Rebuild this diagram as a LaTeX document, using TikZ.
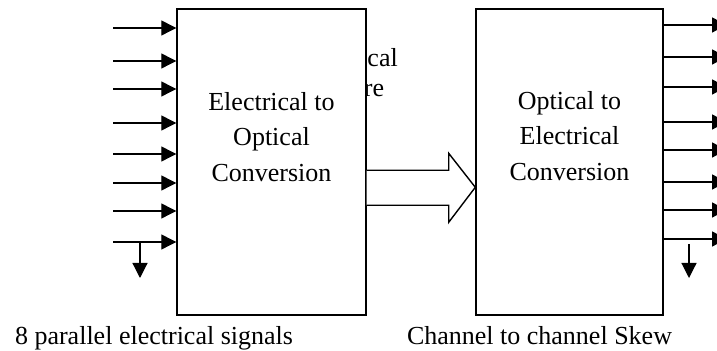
\documentclass[tikz,border=0pt]{standalone}
\usepackage{fontspec}
\setmainfont{Liberation Serif}
\usepackage{tikz}
\usetikzlibrary{positioning,arrows.meta,calc}

\begin{document}
\begin{tikzpicture}[x=0.5pt, y=-0.5pt,
    every node/.style={font=\fontsize{13pt}{17.75pt}\selectfont},
    convbox/.style={draw, fill=white, line width=0.7pt, inner sep=0pt, minimum height=153pt},
    sig/.style={line width=0.6pt, -{Triangle[length=7.5pt, width=7.5pt]}},
    fatarrow/.style={draw, fill=white, line width=0.7pt, line join=miter}]
    \useasboundingbox (0,0) rectangle (717,351);
    \node[align=center, anchor=base, font=\fontsize{13pt}{15pt}\selectfont] (fibre) at (359.5,97)
      {Optical\\fibre};
    \node[convbox, minimum width=94.5pt] (eo) at (271.5,162) {};
    \node[convbox, minimum width=93.5pt] (oe) at (569.5,162) {};
    \node[align=center, anchor=base] (eotext) at ($(eo.north)+(0,173)$)
      {Electrical to\\Optical\\Conversion};
    \node[align=center, anchor=base] (oetext) at ($(oe.north)+(0,172)$)
      {Optical to\\Electrical\\Conversion};
    \draw[fatarrow] ($(eo.north east)+(0,162)$) -- ++(82,0) -- ++(0,-17)
      -- ($(oe.north west)+(0,179)$) -- ($(eo.north east)+(82,214)$) -- ++(0,-17)
      -- ($(eo.north east)+(0,197)$);
    \foreach \i/\y in {1/28,2/61,3/89,4/123,5/154,6/183,7/211,8/242} {
      \coordinate (in\i) at (113,\y);
      \draw[sig] (in\i) -- (in\i -| eo.west);
    }
    \foreach \i/\y in {1/25,2/57,3/87,4/122,5/150,6/182,7/210,8/239} {
      \coordinate (out\i) at (727,\y);
      \draw[sig] (out\i -| oe.east) -- (out\i);
    }
    \coordinate (intap) at (140,278);
    \coordinate (outtap) at (689,278);
    \draw[sig] (in8 -| intap) -- (intap);
    \draw[sig] ($(outtap |- out8)+(0,5)$) -- (outtap);
    \node[anchor=base] (inlabel) at (154,345) {8 parallel electrical signals};
    \node[anchor=base] (skewlabel) at (539.5,345) {Channel to channel Skew};
  \end{tikzpicture}
\end{document}
